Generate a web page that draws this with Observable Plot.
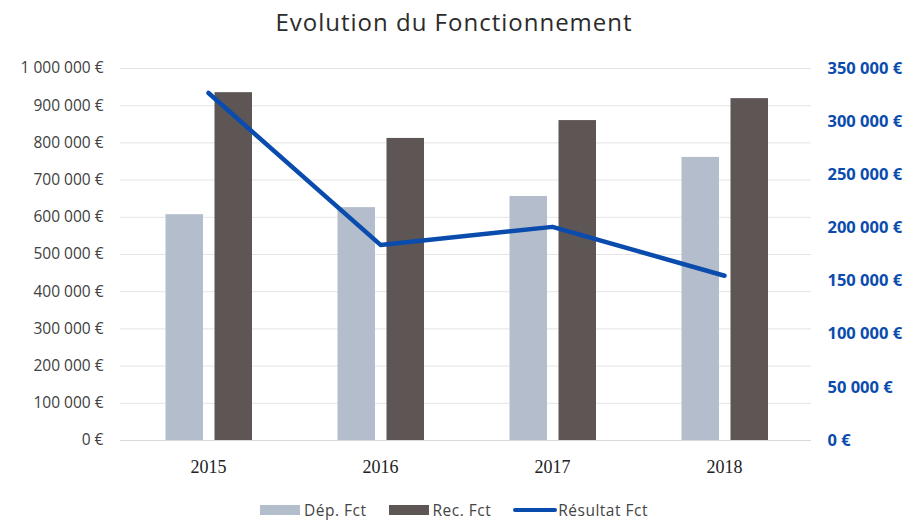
<!DOCTYPE html>
<html><head><meta charset="utf-8">
<script src="https://cdn.jsdelivr.net/npm/d3@7"></script>
<script src="https://cdn.jsdelivr.net/npm/@observablehq/plot@0.6"></script>
<style>
body{margin:0;background:#fff;width:908px;height:520px;overflow:hidden;font-family:"Open Sans",sans-serif;}
#title{height:45px;line-height:44px;text-align:center;font-size:24px;letter-spacing:1px;color:#2b2b2b;}
#legend{display:flex;justify-content:center;align-items:center;height:35px;font-size:15.5px;line-height:18px;letter-spacing:0.5px;color:#444;padding-top:15px;box-sizing:border-box;}
.it{display:flex;align-items:center;margin:0 11px;}
.sw{width:40px;height:10px;margin-right:4px}
.ln{width:44px;height:4px;background:#0a4cae;border-radius:2px;margin-right:1px}
</style></head><body>
<div id="title">Evolution du Fonctionnement</div>
<div id="chart"></div>
<div id="legend"></div>
<script>
const years = ["2015", "2016", "2017", "2018"];
const depFct = [607000, 626000, 656000, 761000];
const recFct = [935000, 812000, 860000, 919000];
const resultatFct = [327000, 184000, 201000, 155000];
const leftTicks = [0,100000,200000,300000,400000,500000,600000,700000,800000,900000,1000000];
const rightTicks = [0,50000,100000,150000,200000,250000,300000,350000];
const seriesNames = ["Dép. Fct", "Rec. Fct", "Résultat Fct"];
const colors = ["#b3bdcb", "#5e5655", "#0a4cae"];

const ratio = 1000000 / 350000;
const eur = v => d3.format(",")(v).replace(/,/g, " ") + " €";

const bars = years.flatMap((y, i) => [
  {year: y, series: seriesNames[0], value: depFct[i]},
  {year: y, series: seriesNames[1], value: recFct[i]}
]);
const line = years.map((y, i) => ({year: y, value: resultatFct[i], scaled: resultatFct[i] * ratio}));

const chart = Plot.plot({
  width: 908,
  height: 440,
  marginTop: 23,
  marginBottom: 45,
  marginLeft: 120,
  marginRight: 97,
  style: {fontFamily: "Open Sans, sans-serif", fontSize: "13px", color: "#404040"},
  x: {domain: years, padding: 0, axis: null, label: null},
  y: {domain: [0, 1000000], axis: null, label: null},
  marks: [
    Plot.gridY(leftTicks, {stroke: "#e4e4e4", strokeOpacity: 1, strokeWidth: 1}),
    Plot.axisY(leftTicks, {anchor: "left", label: null, tickSize: 0, tickPadding: 17, tickFormat: eur, fill: "#404040", fontSize: 15.5}),
    Plot.axisY(rightTicks.map(t => t * ratio), {anchor: "right", label: null, tickSize: 0, tickPadding: 16, textAnchor: "start",
      tickFormat: (d, i) => eur(rightTicks[i]), fill: "#0a4cae", fontWeight: "bold", fontSize: 16.5}),
    Plot.axisX(years, {anchor: "bottom", label: null, tickSize: 0, tickPadding: 20, fontFamily: "Liberation Serif, serif", fontSize: 18, fill: "#222"}),
    Plot.barY(bars.filter(d => d.series === seriesNames[0]), {x: "year", y: "value", fill: colors[0], insetLeft: 43.5, insetRight: 91}),
    Plot.barY(bars.filter(d => d.series === seriesNames[1]), {x: "year", y: "value", fill: colors[1], insetLeft: 92.5, insetRight: 42}),
    Plot.ruleY([0], {stroke: "#d9d9d9"}),
    Plot.lineY(line, {x: "year", y: "scaled", stroke: colors[2], strokeWidth: 4.5})
  ]
});
document.getElementById("chart").appendChild(chart);

const lg = document.getElementById("legend");
seriesNames.forEach((n, i) => {
  const it = document.createElement("div"); it.className = "it";
  const sw = document.createElement("div");
  if (i < 2) { sw.className = "sw"; sw.style.background = colors[i]; } else { sw.className = "ln"; }
  it.appendChild(sw);
  const t = document.createElement("span"); t.textContent = n; it.appendChild(t);
  lg.appendChild(it);
});
</script>
</body></html>
